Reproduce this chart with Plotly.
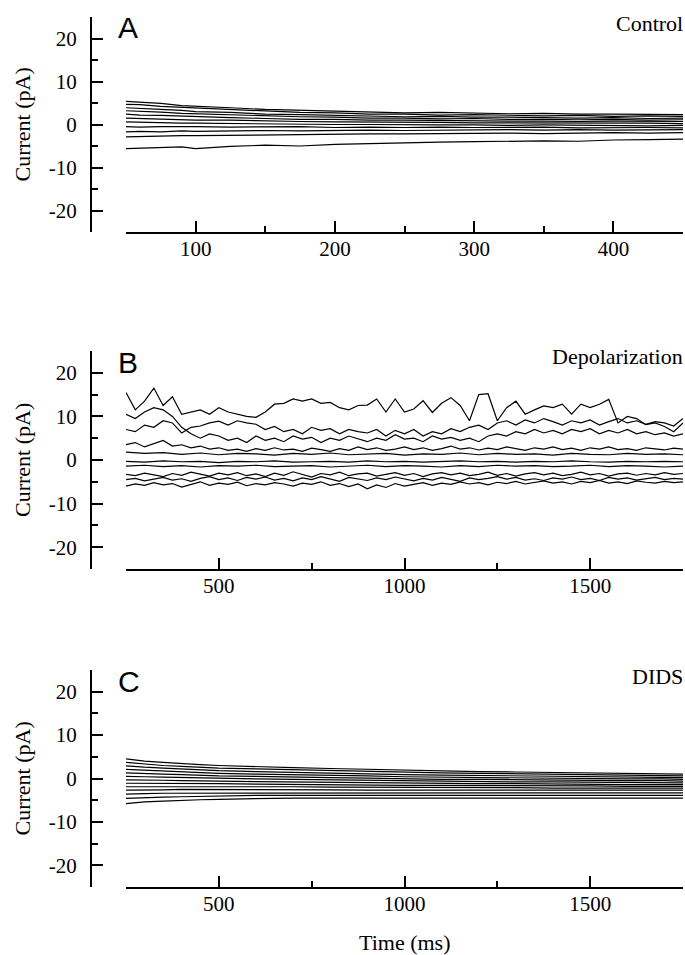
import plotly.graph_objects as go

# ---------------- Panel A (Control) ----------------
t_A = [50, 60, 75, 90, 100, 125, 150, 175, 200, 225, 250, 275, 300, 325, 350, 375, 400, 425, 450]
A_traces = [
    [5.4, 5.2, 4.9, 4.4, 4.3, 3.9, 3.5, 3.3, 3.0, 2.9, 2.7, 2.8, 2.6, 2.5, 2.6, 2.4, 2.4, 2.3, 2.3],
    [4.7, 4.6, 4.2, 4.0, 3.7, 3.4, 3.1, 2.8, 2.7, 2.4, 2.4, 2.2, 2.3, 2.1, 2.0, 2.1, 1.9, 2.0, 1.9],
    [3.9, 3.7, 3.5, 3.3, 3.0, 2.8, 2.4, 2.3, 2.1, 2.0, 1.8, 1.9, 1.7, 1.7, 1.6, 1.5, 1.6, 1.4, 1.5],
    [3.2, 3.1, 2.9, 2.6, 2.5, 2.2, 2.0, 1.8, 1.7, 1.5, 1.5, 1.3, 1.4, 1.2, 1.2, 1.1, 1.2, 1.0, 1.1],
    [2.4, 2.2, 2.1, 1.9, 1.8, 1.6, 1.4, 1.2, 1.2, 1.0, 1.0, 0.9, 0.9, 0.8, 0.8, 0.7, 0.8, 0.7, 0.7],
    [1.5, 1.4, 1.3, 1.2, 1.0, 1.0, 0.8, 0.7, 0.6, 0.6, 0.5, 0.5, 0.4, 0.4, 0.3, 0.4, 0.3, 0.3, 0.2],
    [0.6, 0.5, 0.5, 0.3, 0.3, 0.2, 0.1, 0.1, 0.0, 0.0, -0.1, -0.1, -0.1, -0.2, -0.1, -0.2, -0.2, -0.3, -0.2],
    [-0.5, -0.6, -0.5, -0.6, -0.5, -0.6, -0.6, -0.5, -0.7, -0.6, -0.7, -0.6, -0.7, -0.7, -0.6, -0.8, -0.7, -0.7, -0.8],
    [-1.7, -1.6, -1.7, -1.5, -1.6, -1.5, -1.4, -1.5, -1.4, -1.3, -1.4, -1.3, -1.3, -1.2, -1.3, -1.2, -1.3, -1.2, -1.2],
    [-2.9, -2.8, -2.8, -2.6, -2.6, -2.5, -2.4, -2.3, -2.3, -2.2, -2.2, -2.1, -2.1, -2.0, -2.1, -2.0, -1.9, -2.0, -1.9],
    [-5.6, -5.5, -5.3, -5.2, -5.6, -5.1, -4.8, -5.0, -4.6, -4.4, -4.2, -4.1, -4.0, -3.9, -3.8, -3.9, -3.6, -3.5, -3.4],
]

# ---------------- Panel B (Depolarization) ----------------
t_B = [250, 275, 300, 325, 350, 375, 400, 425, 450, 475, 500, 525, 550, 575, 600, 625, 650, 675, 700,
       725, 750, 775, 800, 825, 850, 875, 900, 925, 950, 975, 1000, 1025, 1050, 1075, 1100, 1125,
       1150, 1175, 1200, 1225, 1250, 1275, 1300, 1325, 1350, 1375, 1400, 1425, 1450, 1475, 1500,
       1525, 1550, 1575, 1600, 1625, 1650, 1675, 1700, 1725, 1750]
t_B_coarse = [250, 300, 350, 400, 450, 500, 550, 600, 650, 700, 750, 800, 850, 900, 950, 1000,
              1050, 1100, 1150, 1200, 1250, 1300, 1350, 1400, 1450, 1500, 1550, 1600, 1650, 1700, 1750]
B1 = [15.5, 11.5, 13.5, 16.5, 12.5, 14.5, 10.5, 11.0, 11.5, 10.5, 12.0, 11.0, 10.5, 10.0, 9.8, 11.0,
      12.8, 13.0, 14.0, 13.5, 14.0, 13.0, 13.2, 12.0, 11.5, 12.5, 12.6, 14.0, 11.0, 14.0, 11.0, 11.7,
      13.6, 10.9, 13.0, 14.3, 12.5, 9.0, 15.0, 15.2, 9.0, 12.0, 13.5, 10.5, 11.5, 12.4, 12.0, 12.8,
      10.5, 12.8, 12.0, 12.8, 13.9, 8.5, 10.0, 9.5, 8.1, 8.5, 7.7, 6.5, 8.5]
B2 = [7.0, 6.5, 8.0, 7.5, 9.0, 8.5, 6.2, 7.5, 7.8, 8.5, 8.9, 8.0, 9.0, 8.5, 8.2, 7.0, 7.7, 6.5, 7.0,
      6.0, 7.5, 6.8, 7.2, 6.0, 7.0, 6.5, 6.2, 7.0, 5.5, 6.8, 6.0, 7.0, 5.5, 6.5, 6.0, 7.2, 6.5, 7.5,
      8.0, 7.0, 8.5, 9.0, 8.0, 9.2, 8.5, 9.5, 8.8, 8.0, 9.0, 8.5, 9.2, 8.0, 8.8, 9.5, 8.5, 9.0, 8.2,
      8.8, 8.5, 7.8, 9.5]
B3 = [10.5, 9.5, 11.0, 12.0, 11.5, 10.0, 7.5, 6.0, 5.0, 6.0, 5.5, 4.5, 5.0, 4.0, 5.5, 4.5, 5.0, 4.2,
      5.5, 4.8, 5.2, 4.0, 5.0, 4.5, 5.5, 4.8, 4.2, 5.0, 4.5, 5.8, 4.8, 5.0, 4.2, 5.5, 4.8, 5.2, 4.5,
      5.0, 4.2, 5.5, 6.0, 5.5, 6.5, 6.0, 7.0, 6.2, 6.8, 6.0, 7.0, 6.5, 7.2, 6.0, 6.8, 6.2, 7.0, 6.0,
      6.5, 5.8, 6.2, 5.5, 6.0]
B4 = [3.5, 4.0, 3.0, 3.8, 4.5, 3.2, 3.5, 2.8, 3.2, 2.5, 2.8, 2.2, 2.5, 2.0, 2.6, 2.2, 2.8, 2.3, 2.5,
      2.0, 2.7, 2.4, 2.0, 2.6, 2.2, 3.0, 2.4, 2.8, 2.2, 2.5, 3.0, 2.4, 2.8, 2.2, 2.6, 3.2, 2.5, 2.8,
      2.3, 2.7, 2.4, 3.0, 2.6, 2.2, 2.8, 2.5, 3.0, 2.4, 2.7, 2.2, 2.8, 2.5, 3.0, 2.4, 2.6, 2.2, 2.8,
      2.5, 2.3, 2.7, 2.5]
B5 = [1.8, 1.5, 1.7, 1.3, 1.6, 1.2, 1.5, 1.4, 1.1, 1.5, 1.3, 1.6, 1.2, 1.4, 1.5, 1.1, 1.4, 1.3, 1.6,
      1.2, 1.5, 1.3, 1.4, 1.1, 1.5, 1.3, 1.2, 1.5, 1.3, 1.4, 1.2]
B6 = [-0.3, -0.5, -0.2, -0.4, -0.3, -0.6, -0.3, -0.4, -0.2, -0.5, -0.4, -0.3, -0.5, -0.2, -0.4, -0.3,
      -0.5, -0.4, -0.2, -0.4, -0.3, -0.5, -0.3, -0.4, -0.2, -0.4, -0.5, -0.3, -0.4, -0.3, -0.4]
B7 = [-1.4, -1.2, -1.5, -1.3, -1.6, -1.3, -1.4, -1.2, -1.5, -1.4, -1.3, -1.6, -1.4, -1.2, -1.5, -1.3,
      -1.4, -1.6, -1.3, -1.5, -1.2, -1.4, -1.3, -1.5, -1.4, -1.2, -1.5, -1.3, -1.4, -1.6, -1.4]
B8 = [-3.3, -3.6, -3.0, -3.4, -3.8, -3.1, -3.5, -2.8, -3.3, -3.7, -3.0, -3.4, -2.9, -3.6, -3.2, -3.8,
      -3.0, -3.5, -2.7, -3.3, -3.9, -3.1, -3.4, -2.8, -3.6, -3.2, -3.0, -3.7, -3.3, -2.9, -3.5, -3.1,
      -3.8, -3.2, -2.9, -3.4, -3.0, -3.6, -3.3, -2.8, -3.5, -3.1, -3.7, -3.2, -2.9, -3.4, -3.0, -3.6,
      -3.3, -2.8, -3.4, -3.1, -3.7, -3.2, -3.0, -3.5, -3.1, -3.4, -2.9, -3.3, -3.1]
B9 = [-4.5, -4.2, -4.8, -4.4, -4.0, -4.6, -4.3, -4.9, -4.2, -3.8, -4.5, -4.1, -4.7, -4.0, -4.4, -3.9,
      -4.6, -4.2, -4.8, -4.1, -4.5, -3.8, -4.3, -4.9, -4.0, -4.4, -4.7, -4.1, -4.5, -3.9, -4.3, -4.8,
      -4.2, -4.6, -4.0, -4.4, -4.9, -4.1, -4.5, -4.2, -3.8, -4.4, -4.0, -4.6, -4.3, -4.7, -4.1, -4.4,
      -3.9, -4.5, -4.2, -4.7, -4.0, -4.4, -4.1, -4.6, -4.3, -4.0, -4.5, -4.2, -4.4]
B10 = [-6.0, -5.5, -5.8, -5.2, -5.7, -5.4, -6.2, -5.6, -5.0, -5.8, -5.3, -5.6, -5.1, -5.9, -5.4, -5.7,
       -5.2, -5.5, -6.0, -5.3, -5.6, -5.0, -5.8, -5.4, -6.1, -5.5, -6.6, -5.7, -6.3, -5.4, -6.0, -5.6,
       -5.2, -5.8, -5.3, -5.6, -5.0, -5.5, -5.2, -5.7, -5.1, -5.4, -4.9, -5.5, -5.2, -4.8, -5.3, -5.0,
       -5.5, -4.9, -5.2, -4.7, -5.3, -5.0, -5.4, -4.8, -5.1, -5.3, -4.9, -5.2, -5.0]
B_fine = [B1, B2, B3, B4, B8, B9, B10]
B_coarse = [B5, B6, B7]

# ---------------- Panel C (DIDS) ----------------
t_C = [250, 275, 300, 350, 400, 450, 500, 600, 700, 800, 900, 1000, 1100, 1200, 1300, 1400, 1500, 1600, 1700, 1750]
C_traces = [
    [4.5, 4.2, 4.0, 3.7, 3.4, 3.2, 3.0, 2.7, 2.5, 2.3, 2.1, 1.9, 1.8, 1.6, 1.5, 1.4, 1.3, 1.2, 1.1, 1.0],
    [3.7, 3.5, 3.3, 3.0, 2.8, 2.6, 2.4, 2.2, 2.0, 1.8, 1.6, 1.4, 1.3, 1.2, 1.1, 1.0, 0.9, 0.8, 0.7, 0.6],
    [2.9, 2.7, 2.6, 2.4, 2.2, 2.0, 1.8, 1.6, 1.4, 1.3, 1.1, 0.9, 0.8, 0.7, 0.6, 0.5, 0.4, 0.4, 0.3, 0.2],
    [2.1, 2.0, 1.9, 1.7, 1.5, 1.3, 1.2, 1.0, 0.9, 0.7, 0.6, 0.4, 0.3, 0.2, 0.2, 0.1, 0.0, -0.1, -0.1, -0.2],
    [1.3, 1.2, 1.1, 1.0, 0.9, 0.7, 0.6, 0.5, 0.3, 0.2, 0.1, -0.1, -0.2, -0.2, -0.3, -0.4, -0.4, -0.5, -0.5, -0.6],
    [0.5, 0.4, 0.4, 0.3, 0.2, 0.1, 0.0, -0.1, -0.2, -0.3, -0.5, -0.6, -0.6, -0.7, -0.8, -0.8, -0.9, -0.9, -1.0, -1.0],
    [-0.3, -0.3, -0.4, -0.4, -0.5, -0.5, -0.6, -0.7, -0.8, -0.9, -1.0, -1.1, -1.1, -1.2, -1.2, -1.3, -1.3, -1.4, -1.4, -1.4],
    [-1.1, -1.1, -1.1, -1.2, -1.2, -1.2, -1.2, -1.3, -1.4, -1.4, -1.5, -1.6, -1.6, -1.6, -1.7, -1.7, -1.7, -1.8, -1.8, -1.8],
    [-1.9, -1.9, -1.9, -1.9, -1.8, -1.8, -1.8, -1.9, -1.9, -2.0, -2.0, -2.1, -2.1, -2.1, -2.1, -2.2, -2.2, -2.2, -2.2, -2.2],
    [-2.7, -2.7, -2.6, -2.6, -2.5, -2.5, -2.5, -2.6, -2.6, -2.6, -2.7, -2.7, -2.7, -2.7, -2.7, -2.7, -2.7, -2.7, -2.7, -2.7],
    [-3.6, -3.5, -3.5, -3.4, -3.4, -3.3, -3.3, -3.3, -3.3, -3.3, -3.3, -3.3, -3.3, -3.3, -3.3, -3.3, -3.3, -3.3, -3.3, -3.3],
    [-4.6, -4.5, -4.4, -4.3, -4.2, -4.1, -4.0, -3.9, -3.9, -3.9, -3.9, -3.9, -3.9, -3.9, -3.9, -3.9, -3.9, -3.9, -3.9, -3.9],
    [-5.8, -5.6, -5.4, -5.2, -5.0, -4.9, -4.8, -4.6, -4.5, -4.5, -4.5, -4.5, -4.5, -4.5, -4.5, -4.5, -4.5, -4.5, -4.5, -4.5],
]

y_ticks = [-20, -10, 0, 10, 20]
y_ticklabels = ["-20", "-10", "0", "10", "20"]
A_xticks = [100, 200, 300, 400]
BC_xticks = [500, 1000, 1500]
panel_letters = ["A", "B", "C"]
panel_titles = ["Control", "Depolarization", "DIDS"]
y_title = "Current (pA)"
x_title = "Time (ms)"

W, H = 685, 955
def px(x):
    return x / W
def py(y):
    return 1 - y / H

fig = go.Figure()
LINE = dict(color="black", width=1.2)

for tr in A_traces:
    fig.add_trace(go.Scatter(x=t_A, y=tr, mode="lines", line=LINE, xaxis="x", yaxis="y", showlegend=False))
for tr in B_fine:
    fig.add_trace(go.Scatter(x=t_B, y=tr, mode="lines", line=LINE, xaxis="x2", yaxis="y2", showlegend=False))
for tr in B_coarse:
    fig.add_trace(go.Scatter(x=t_B_coarse, y=tr, mode="lines", line=LINE, xaxis="x2", yaxis="y2", showlegend=False))
for tr in C_traces:
    fig.add_trace(go.Scatter(x=t_C, y=tr, mode="lines", line=LINE, xaxis="x3", yaxis="y3", showlegend=False))

# panel geometry in pixels (top, bottom)
panels = [(17, 232), (351, 569), (670, 887)]
x_dom = [px(126), px(683)]
y_pos = px(91)
tickfont = dict(family="Liberation Serif", size=21, color="black")
textfont = dict(family="Liberation Serif", size=22, color="black")

layout = dict(
    width=W, height=H, margin=dict(l=0, r=0, t=0, b=0),
    paper_bgcolor="white", plot_bgcolor="white", showlegend=False,
)
xranges = [[50, 450], [250, 1750], [250, 1750]]
xtickvals = [A_xticks, BC_xticks, BC_xticks]
xminor = [50, 250, 250]
for i, (top, bot) in enumerate(panels):
    sfx = "" if i == 0 else str(i + 1)
    layout["xaxis" + sfx] = dict(
        domain=x_dom, range=xranges[i], anchor="y" + sfx,
        showline=True, linecolor="black", linewidth=2, showgrid=False, zeroline=False,
        ticks="inside", ticklen=11, tickwidth=2, tickcolor="black",
        tickvals=xtickvals[i], tickfont=tickfont, ticklabelstandoff=-3,
        minor=dict(ticks="inside", ticklen=6, tickwidth=2, tickcolor="black", dtick=xminor[i], tick0=0),
    )
    layout["yaxis" + sfx] = dict(
        domain=[py(bot), py(top)], range=[-25, 25], anchor="free", position=y_pos,
        showline=True, linecolor="black", linewidth=2, showgrid=False, zeroline=False,
        ticks="inside", ticklen=11, tickwidth=2, tickcolor="black",
        tickvals=y_ticks, ticktext=y_ticklabels, tickfont=tickfont, ticklabelstandoff=9,
        minor=dict(ticks="inside", ticklen=6, tickwidth=2, tickcolor="black", dtick=5, tick0=0),
    )
fig.update_layout(**layout)

annotations = []
for i, (top, bot) in enumerate(panels):
    annotations.append(dict(text=panel_letters[i], x=px(116), y=py(top + 11), xref="paper", yref="paper",
                            xanchor="left", yanchor="middle", showarrow=False,
                            font=dict(family="Liberation Sans", size=30, color="black")))
    annotations.append(dict(text=panel_titles[i], x=px(685), y=py(top + 6), xref="paper", yref="paper",
                            xanchor="right", yanchor="middle", showarrow=False, font=textfont))
    annotations.append(dict(text=y_title, x=px(22), y=py((top + bot) / 2), xref="paper", yref="paper",
                            xanchor="center", yanchor="middle", textangle=-90, showarrow=False,
                            font=textfont))
annotations.append(dict(text=x_title, x=px(404), y=py(942), xref="paper", yref="paper",
                        xanchor="center", yanchor="middle", showarrow=False, font=textfont))
fig.update_layout(annotations=annotations)

fig.write_html("out.html", config={"displayModeBar": False},
               post_script="document.body.style.margin='0';")
